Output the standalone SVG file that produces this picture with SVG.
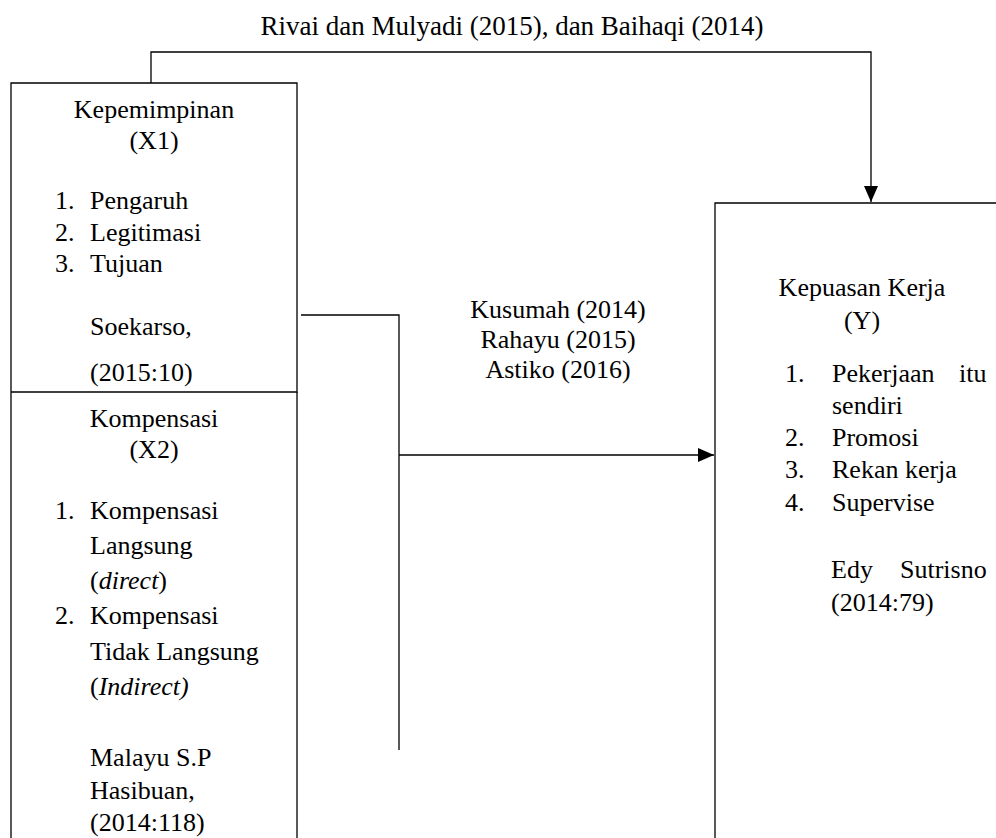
<svg xmlns="http://www.w3.org/2000/svg" width="996" height="838" viewBox="0 0 996 838">
<style>
  text { font-family: "Liberation Serif", "Times New Roman", serif; font-size: 26px; fill: #000; }
  .title { font-size: 27px; }
  .c { text-anchor: middle; }
  .it { font-style: italic; }
  .ln { fill: none; stroke: #000; stroke-width: 1.3; }
</style>
<defs>
  <marker id="arr" markerUnits="userSpaceOnUse" markerWidth="18" markerHeight="16" refX="16" refY="7" orient="auto">
    <path d="M0,0 L16,7 L0,14 Z" fill="#000"/>
  </marker>
</defs>
<rect width="996" height="838" fill="#fff"/>

<g id="connectors">
  <path class="ln" d="M151,83 V52 H871 V202" marker-end="url(#arr)"/>
  <path class="ln" d="M301,315 H399 V750"/>
  <path class="ln" d="M399,455 H714" marker-end="url(#arr)"/>
  <text class="title c" x="512" y="35">Rivai dan Mulyadi (2015), dan Baihaqi (2014)</text>
  <text class="c" x="558" y="318">Kusumah (2014)</text>
  <text class="c" x="558" y="348">Rahayu (2015)</text>
  <text class="c" x="558" y="378">Astiko (2016)</text>
</g>

<g id="node-x1">
  <path class="ln" d="M11,838 V83 H297 V392 H11"/>
  <text class="c" x="154" y="118">Kepemimpinan</text>
  <text class="c" x="154" y="149">(X1)</text>
  <text x="55" y="209">1.</text><text x="90" y="209">Pengaruh</text>
  <text x="55" y="241">2.</text><text x="90" y="241">Legitimasi</text>
  <text x="55" y="272">3.</text><text x="90" y="272">Tujuan</text>
  <text x="90" y="335">Soekarso,</text>
  <text x="90" y="381">(2015:10)</text>
</g>

<g id="node-x2">
  <path class="ln" d="M297,392 V838"/>
  <text class="c" x="154" y="427">Kompensasi</text>
  <text class="c" x="154" y="458">(X2)</text>
  <text x="55" y="519">1.</text><text x="90" y="519">Kompensasi</text>
  <text x="90" y="554">Langsung</text>
  <text x="90" y="589">(<tspan class="it">direct</tspan>)</text>
  <text x="55" y="624">2.</text><text x="90" y="624">Kompensasi</text>
  <text x="90" y="660">Tidak Langsung</text>
  <text x="90" y="695">(<tspan class="it">Indirect)</tspan></text>
  <text x="90" y="766">Malayu S.P</text>
  <text x="90" y="799">Hasibuan,</text>
  <text x="90" y="831">(2014:118)</text>
</g>

<g id="node-y">
  <path class="ln" d="M996,203 H715 V838"/>
  <text class="c" x="862" y="296">Kepuasan Kerja</text>
  <text class="c" x="862" y="329">(Y)</text>
  <text x="785" y="382">1.</text><text y="382"><tspan x="832">Pekerjaan</tspan><tspan x="959">itu</tspan></text>
  <text x="832" y="414">sendiri</text>
  <text x="785" y="446">2.</text><text x="832" y="446">Promosi</text>
  <text x="785" y="478">3.</text><text x="832" y="478">Rekan kerja</text>
  <text x="785" y="511">4.</text><text x="832" y="511">Supervise</text>
  <text y="578"><tspan x="831">Edy</tspan><tspan x="900">Sutrisno</tspan></text>
  <text x="831" y="611">(2014:79)</text>
</g>
</svg>
